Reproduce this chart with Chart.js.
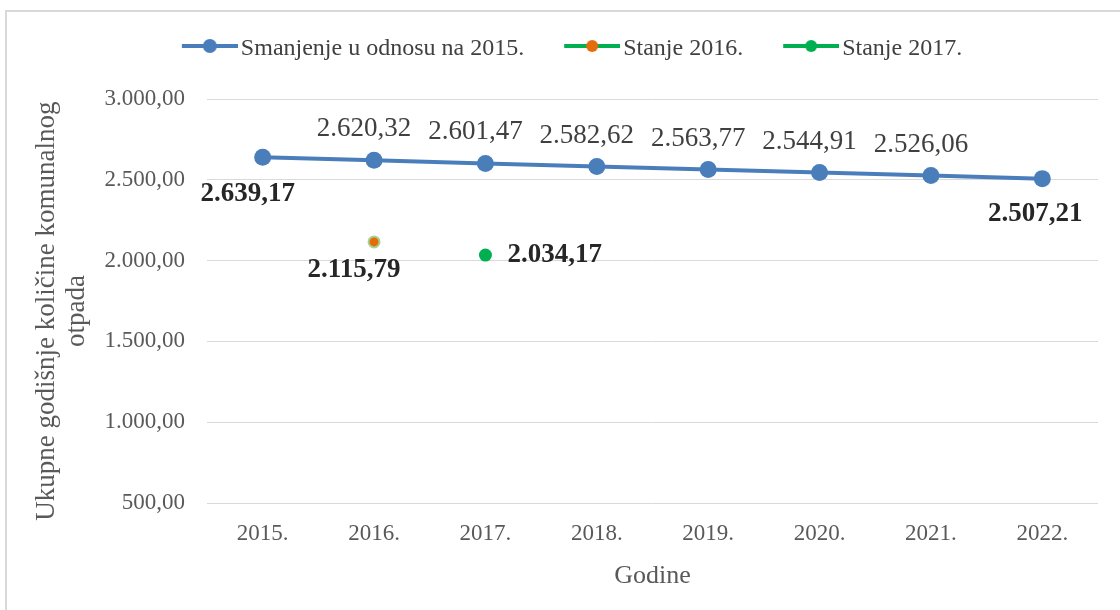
<!DOCTYPE html>
<html>
<head>
<meta charset="utf-8">
<script src="https://cdn.jsdelivr.net/npm/chart.js"></script>
<style>
html, body { margin: 0; padding: 0; background: #fff; }
#okvir { position: relative; width: 1120px; height: 610px; overflow: hidden; }
#rub { position: absolute; left: 5px; top: 10px; width: 1200px; height: 700px; border-left: 2px solid #d9d9d9; border-top: 2px solid #d9d9d9; }
canvas { position: absolute; left: 0; top: 0; }
</style>
</head>
<body>
<div id="okvir"><div id="rub"></div><canvas id="grafico" width="1120" height="610"></canvas></div>
<script>
const godine = ['2015.', '2016.', '2017.', '2018.', '2019.', '2020.', '2021.', '2022.'];
const smanjenje = [2639.17, 2620.32, 2601.47, 2582.62, 2563.77, 2544.91, 2526.06, 2507.21];
const stanje2016 = [null, 2115.79, null, null, null, null, null, null];
const stanje2017 = [null, null, 2034.17, null, null, null, null, null];
const yTicks = [500, 1000, 1500, 2000, 2500, 3000];

const PLAVA = '#4a7ebb';
const ZELENA = '#00b050';
const NARANDZASTA = '#e46c0a';
const FONT = '"Liberation Serif", "Times New Roman", serif';

// 2.620,32
function broj(v) {
    const [cijeli, dec] = v.toFixed(2).split('.');
    return cijeli.replace(/\B(?=(\d{3})+(?!\d))/g, '.') + ',' + dec;
}

// ikona za legendu: linija + marker
function ikona(linija, ispuna, rub, r) {
    const c = document.createElement('canvas');
    c.width = 95; c.height = 20;
    const g = c.getContext('2d');
    g.strokeStyle = linija; g.lineWidth = 4;
    g.beginPath(); g.moveTo(39, 7); g.lineTo(95, 7); g.stroke();
    g.beginPath(); g.arc(67, 7, r, 0, Math.PI * 2);
    g.fillStyle = ispuna; g.fill();
    if (rub) { g.lineWidth = 1.5; g.strokeStyle = rub; g.stroke(); }
    return c;
}

function polozajOznake(di, i, n) {
    if (di === 0) {
        if (i === 0) return { bold: true, align: 'center', dx: -15, dy: 37 };
        if (i === n - 1) return { bold: true, align: 'center', dx: -7, dy: 35 };
        return { bold: false, align: 'center', dx: -10, dy: -31 };
    }
    if (di === 1) return { bold: true, align: 'center', dx: -20, dy: 28 };
    return { bold: true, align: 'left', dx: 22, dy: 0 };
}

const oznake = {
    id: 'oznake',
    afterDatasetsDraw(chart) {
        const ctx = chart.ctx;
        chart.data.datasets.forEach((ds, di) => {
            chart.getDatasetMeta(di).data.forEach((pt, i) => {
                const v = ds.data[i];
                if (v == null) return;
                const o = polozajOznake(di, i, ds.data.length);
                ctx.save();
                ctx.font = (o.bold ? 'bold ' : '') + '27px ' + FONT;
                ctx.fillStyle = o.bold ? '#262626' : '#404040';
                ctx.textAlign = o.align;
                ctx.textBaseline = 'middle';
                ctx.fillText(broj(v), pt.x + o.dx, pt.y + o.dy);
                ctx.restore();
            });
        });
    }
};

const ikone = [
    ikona(PLAVA, PLAVA, null, 7),
    ikona(ZELENA, NARANDZASTA, null, 6),
    ikona(ZELENA, ZELENA, null, 6)
];

const data = {
    labels: godine,
    datasets: [{
        label: 'Smanjenje u odnosu na 2015.',
        data: smanjenje,
        borderColor: PLAVA,
        backgroundColor: PLAVA,
        borderWidth: 4,
        pointRadius: 8.5,
        pointBorderWidth: 0,
        pointBackgroundColor: PLAVA
    }, {
        label: 'Stanje 2016.',
        data: stanje2016,
        showLine: false,
        borderColor: ZELENA,
        pointRadius: 5.5,
        pointBorderWidth: 2,
        pointBorderColor: '#a9d18e',
        pointBackgroundColor: NARANDZASTA
    }, {
        label: 'Stanje 2017.',
        data: stanje2017,
        showLine: false,
        borderColor: ZELENA,
        pointRadius: 6.5,
        pointBorderWidth: 0,
        pointBackgroundColor: ZELENA
    }]
};

const config = {
    type: 'line',
    data: data,
    plugins: [oznake],
    options: {
        responsive: false,
        animation: false,
        layout: { padding: { left: 16, right: 22, top: 27, bottom: 0 } },
        plugins: {
            tooltip: { enabled: false },
            legend: {
                position: 'top',
                labels: {
                    usePointStyle: true,
                    pointStyleWidth: 77,
                    padding: 10,
                    color: '#404040',
                    font: { family: FONT, size: 24 },
                    generateLabels: (chart) => chart.data.datasets.map((ds, i) => ({
                        text: ds.label,
                        pointStyle: ikone[i],
                        fillStyle: ds.borderColor,
                        strokeStyle: ds.borderColor,
                        lineWidth: 0,
                        hidden: false,
                        datasetIndex: i,
                        fontColor: '#404040'
                    }))
                }
            },
            subtitle: {
                display: true,
                text: '',
                position: 'top',
                weight: 500,
                font: { size: 1, lineHeight: 1 },
                padding: { top: 0, bottom: 27 }
            }
        },
        scales: {
            x: {
                offset: true,
                grid: { display: false, drawTicks: false },
                border: { display: false },
                ticks: { color: '#595959', font: { family: FONT, size: 23 }, padding: 17, maxRotation: 0 },
                title: { display: true, text: 'Godine', color: '#595959', font: { family: FONT, size: 26 }, padding: { top: 0, bottom: 18 } },
                afterFit: (s) => { s.height = 107; }
            },
            y: {
                min: 500,
                max: 3000,
                grid: { color: '#d9d9d9', lineWidth: 1, drawTicks: false },
                border: { display: false },
                afterBuildTicks: (s) => { s.ticks = yTicks.map(v => ({ value: v })); },
                ticks: { color: '#595959', font: { family: FONT, size: 23 }, padding: 22, callback: (v) => broj(v) },
                title: {
                    display: true,
                    text: ['Ukupne godišnje količine komunalnog   ', 'otpada   '],
                    color: '#595959',
                    font: { family: FONT, size: 27, lineHeight: 1.1 },
                    padding: { top: 16, bottom: 0 }
                },
                afterFit: (s) => { s.width = 191; }
            }
        }
    }
};

const grafico = new Chart(document.getElementById('grafico'), config);
</script>
</body>
</html>
